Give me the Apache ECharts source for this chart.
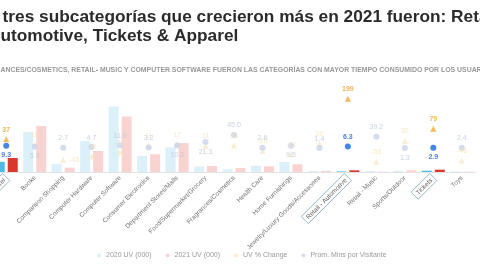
<!DOCTYPE html>
<html>
<head>
<meta charset="utf-8">
<script src="https://cdn.jsdelivr.net/npm/echarts@6/dist/echarts.min.js"></script>
<style>
html, body { margin: 0; padding: 0; background: #fff; }
#chart { width: 480px; height: 270px; }
</style>
</head>
<body>
<div id="chart"></div>
<script>
// datos
const categories = ['Apparel', 'Books', 'Comparison Shopping', 'Computer Hardware', 'Computer Software', 'Consumer Electronics', 'Department Stores/Malls', 'Food/Supermarket/Grocery', 'Fragrances/Cosmetics', 'Health Care', 'Home Furnishings', 'Jewelry/Luxury Goods/Accessories', 'Retail - Automotive', 'Retail - Music', 'Sports/Outdoor', 'Tickets', 'Toys']
const uv2020 = [1020, 4000, 800, 3100, 6550, 1600, 2470, 540, 270, 630, 1000, 100, 57, 100, 130, 130, 80]
const uv2021 = [1400, 4600, 440, 2100, 5550, 1770, 2890, 600, 400, 570, 770, 120, 170, 47, 170, 233, 42]
const uvChange = [37, 15, -45, -32, -15, 11, 17, 11, 13, -10, -23, 20, 199, -53, 30, 79, -48]
const minsVisitante = [9.3, 5.5, 2.7, 4.7, 11, 3.2, 10.3, 21.3, 45.0, 2.6, 9.5, 1.4, 6.3, 39.2, 1.3, 2.9, 2.4]
const highlighted = ['Apparel', 'Retail - Automotive', 'Tickets']

const isHi = i => highlighted.includes(categories[i])
// etiquetas de minutos debajo del punto
const minsBelow = [0, 1, 6, 7, 10, 14, 15]

const chart = echarts.init(document.getElementById('chart'))

const barData = (values, hi, lo) => values.map((v, i) => ({
    value: v,
    itemStyle: { color: isHi(i) ? hi : lo }
}))

const option = {
    animation: false,
    graphic: [
        {
            type: 'text', x: -32, y: 17,
            style: { text: 'Las tres subcategorías que crecieron más en 2021 fueron: Retail -', font: 'bold 17.3px "Liberation Sans", Arial', fill: '#2b2b2b', textVerticalAlign: 'middle' }
        },
        {
            type: 'text', x: -12, y: 36,
            style: { text: 'Automotive, Tickets & Apparel', font: 'bold 17.3px "Liberation Sans", Arial', fill: '#2b2b2b', textVerticalAlign: 'middle' }
        },
        {
            type: 'text', x: -24, y: 70,
            style: { text: 'FRAGRANCES/COSMETICS, RETAIL- MUSIC Y COMPUTER SOFTWARE FUERON LAS CATEGORÍAS CON MAYOR TIEMPO CONSUMIDO POR LOS USUARIOS', font: 'bold 6.9px "Liberation Sans", Arial', fill: '#989898', textVerticalAlign: 'middle' }
        }
    ],
    legend: {
        top: 247,
        left: 92,
        icon: 'circle',
        itemWidth: 4,
        itemHeight: 4,
        itemGap: 14,
        textStyle: { fontSize: 7, color: '#9a9a9a', fontFamily: 'Liberation Sans' },
        data: ['2020 UV (000)', '2021 UV (000)', 'UV % Change', 'Prom. Mins por Visitante']
    },
    grid: { left: -8, right: 4, top: 80, bottom: 98, containLabel: false, outerBoundsMode: 'none' },
    xAxis: {
        type: 'category',
        data: categories,
        axisTick: { show: false },
        axisLine: { lineStyle: { color: '#e4e4e4' } },
        axisLabel: {
            interval: 0,
            rotate: 45,
            margin: 5,
            fontSize: 6.5,
            color: '#707070',
            fontFamily: 'Liberation Sans',
            formatter: v => highlighted.includes(v) ? '{box|' + v + '}' : v,
            rich: {
                box: {
                    fontSize: 6.5,
                    color: '#606060',
                    borderColor: '#7eaebb',
                    borderWidth: 0.8,
                    padding: [2, 3, 1, 3]
                }
            }
        }
    },
    yAxis: [
        { type: 'value', show: false, min: 0, max: 9200 },
        { type: 'value', show: false, min: -94, max: 274 },
        { type: 'value', show: false, min: -78.33, max: 228.33 }
    ],
    series: [
        {
            name: '2020 UV (000)',
            type: 'bar',
            barWidth: 10,
            barGap: '30%',
            itemStyle: { color: '#d9eff9' },
            data: barData(uv2020, '#4dbde8', '#dcf0fa')
        },
        {
            name: '2021 UV (000)',
            type: 'bar',
            barWidth: 10,
            itemStyle: { color: '#f9d3d0' },
            data: barData(uv2021, '#d9392d', '#f9d3d0')
        },
        {
            name: 'UV % Change',
            type: 'scatter',
            yAxisIndex: 1,
            symbol: 'triangle',
            symbolSize: 6,
            itemStyle: { color: '#fbe6bd' },
            data: uvChange.map((v, i) => ({
                value: v,
                itemStyle: { color: isHi(i) ? '#f0a932' : '#fbe9c6' },
                label: {
                    show: true,
                    position: i === 2 ? 'right' : 'top',
                    distance: 3,
                    formatter: '{c}',
                    fontSize: 7,
                    fontWeight: isHi(i) ? 'bold' : 'normal',
                    color: isHi(i) ? '#e9a433' : '#f8e2b4'
                }
            }))
        },
        {
            name: 'Prom. Mins por Visitante',
            type: 'scatter',
            yAxisIndex: 2,
            symbol: 'circle',
            symbolSize: 6,
            itemStyle: { color: '#cbd6ee' },
            data: minsVisitante.map((v, i) => ({
                value: v,
                itemStyle: { color: isHi(i) ? '#1566e3' : '#c8d3ec' },
                label: {
                    show: true,
                    position: minsBelow.includes(i) ? 'bottom' : 'top',
                    distance: 3,
                    formatter: p => p.value.toFixed(1),
                    fontSize: 7,
                    fontWeight: isHi(i) ? 'bold' : 'normal',
                    color: isHi(i) ? '#1a5fd0' : '#b9c5df'
                }
            }))
        }
    ]
}

chart.setOption(option)
</script>
</body>
</html>
